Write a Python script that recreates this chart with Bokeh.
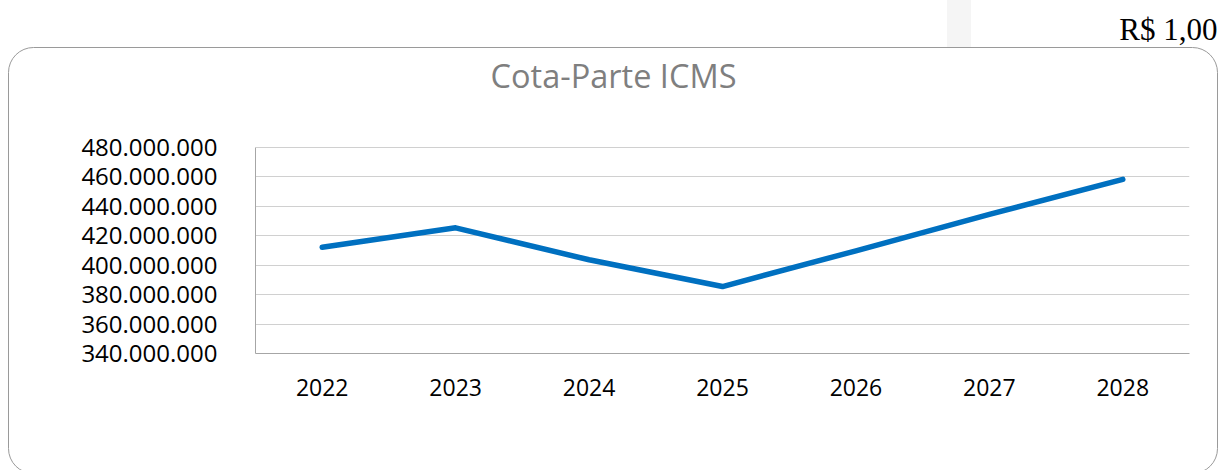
from urllib.parse import quote
from bokeh.plotting import figure
from bokeh.models import FixedTicker, Label, Range1d, FactorRange
from bokeh.embed import file_html
from bokeh.resources import INLINE

# ---- data ----
years = ["2022", "2023", "2024", "2025", "2026", "2027", "2028"]
cota_parte_icms = [412_200_000, 425_400_000, 403_700_000, 385_500_000,
                   409_800_000, 434_500_000, 458_300_000]
y_ticks = [340_000_000, 360_000_000, 380_000_000, 400_000_000,
           420_000_000, 440_000_000, 460_000_000, 480_000_000]
y_tick_labels = ["340.000.000", "360.000.000", "380.000.000", "400.000.000",
                 "420.000.000", "440.000.000", "460.000.000", "480.000.000"]
title_text = "Cota-Parte ICMS"
unit_text = "R$ 1,00"

W, H = 1220, 470
FL, FR, FT, FB = 255, 31, 50, 117   # frame borders
GRID_TOP_PX = 147                    # where the top tick (480 M) sits
frame_h = H - FT - FB
px_per_unit = (H - FB - GRID_TOP_PX) / (y_ticks[-1] - y_ticks[0])
y_end = y_ticks[0] + frame_h / px_per_unit   # empty headroom above the grid for the title

p = figure(width=W, height=H,
           x_range=FactorRange(*years),
           y_range=Range1d(y_ticks[0], y_end),
           output_backend="svg", toolbar_location=None,
           min_border_left=FL, min_border_right=FR,
           min_border_top=FT, min_border_bottom=FB)

p.line(years, cota_parte_icms, line_width=5.5, line_color="#0070C0",
       line_cap="round", line_join="round")

ticker = FixedTicker(ticks=y_ticks)
p.yaxis.ticker = ticker
p.yaxis.bounds = (y_ticks[0], y_ticks[-1])
p.yaxis.major_label_overrides = dict(zip(y_ticks, y_tick_labels))
p.ygrid.ticker = ticker
p.ygrid.grid_line_color = "#d0d0d0"
p.xgrid.grid_line_color = None

for ax in (p.xaxis, p.yaxis):
    ax.major_tick_line_color = None
    ax.minor_tick_line_color = None
    ax.axis_line_color = "#a6a6a6"
    ax.major_label_text_font = "Open Sans"
    ax.major_label_text_color = "#000000"
p.yaxis.major_label_text_font_size = "24px"
p.xaxis.major_label_text_font_size = "23px"
p.yaxis.major_label_standoff = 32
p.xaxis.major_label_standoff = 19

p.outline_line_color = None
p.background_fill_color = None
p.border_fill_color = None

# unit note, top right (outside the chart box)
p.title.text = unit_text
p.title.align = "right"
p.title.offset = -28
p.title.standoff = 8
p.title.text_font = "Liberation Serif"
p.title.text_font_size = "31px"
p.title.text_font_style = "normal"
p.title.text_color = "#000000"

# chart title, centred on the rounded box
p.add_layout(Label(x=613 - FL, y=(H - FB) - 75, x_units="screen", y_units="screen",
                   text=title_text, text_align="center", text_baseline="alphabetic",
                   text_font="Open Sans", text_font_size="32.5px",
                   text_color="#7f7f7f"))

# decorative rounded chart box and light strip, as a CSS background
svg = (
    f'<svg xmlns="http://www.w3.org/2000/svg" width="{W}" height="{H}">'
    '<rect x="947" y="0" width="24" height="47" fill="#f5f5f5"/>'
    '<rect x="8.5" y="47.5" width="1209" height="426" rx="25" ry="25" '
    'fill="none" stroke="#9a9a9a" stroke-width="1"/>'
    '</svg>'
)
p.styles = {
    "background-image": f'url("data:image/svg+xml,{quote(svg)}")',
    "background-repeat": "no-repeat",
    "background-size": f"{W}px {H}px",
    "background-color": "white",
}

open("out.html", "w").write(file_html(p, INLINE))
